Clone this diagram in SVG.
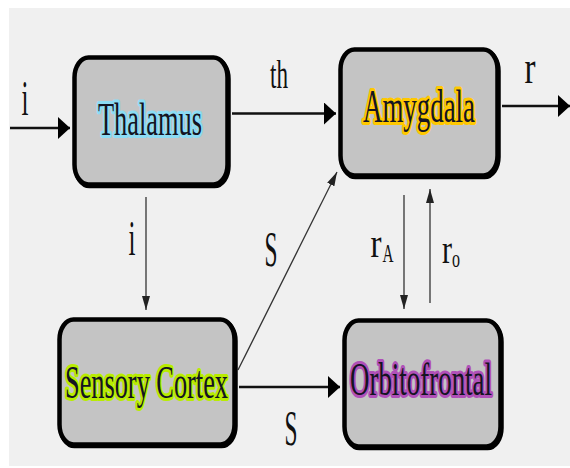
<svg xmlns="http://www.w3.org/2000/svg" width="570" height="468" viewBox="0 0 570 468">
<style>
.box{fill:#c4c4c4;stroke:#000;stroke-width:4.5}
.shadow{fill:#000;stroke:#000;stroke-width:4.5}
.name{font-family:"Liberation Serif","Times New Roman",serif;font-size:46px;fill:#141422;stroke-width:6px;paint-order:stroke;stroke-linejoin:round;text-anchor:middle}
.lbl{font-family:"Liberation Serif","Times New Roman",serif;fill:#111;text-anchor:middle}
.thick{stroke:#111;stroke-width:2.6;fill:none}
.thin{stroke:#333;stroke-width:1.3;fill:none}
</style>
<defs>
<marker id="big" viewBox="0 0 12 22" refX="12" refY="11" markerWidth="12" markerHeight="22" markerUnits="userSpaceOnUse" orient="auto"><path d="M0,0 L12,11 L0,22 Z" fill="#000"/></marker>
<marker id="small" viewBox="0 0 14 8" refX="14" refY="4" markerWidth="14" markerHeight="8" markerUnits="userSpaceOnUse" orient="auto"><path d="M0,0 L14,4 L0,8 Z" fill="#222"/></marker>
</defs>
<rect x="0" y="0" width="570" height="468" fill="#fff"/>
<rect x="9" y="8" width="561" height="458" fill="#f0f0f0"/>

<g id="connectors">
<line class="thick" x1="10" y1="128" x2="70" y2="128" marker-end="url(#big)"/>
<line class="thick" x1="232" y1="113.5" x2="336" y2="113.5" marker-end="url(#big)"/>
<line class="thick" x1="502" y1="106" x2="570" y2="106" marker-end="url(#big)"/>
<line class="thick" x1="239" y1="387" x2="340" y2="387" marker-end="url(#big)"/>
<line class="thin" x1="238" y1="370" x2="337" y2="172" marker-end="url(#small)"/>
<line class="thin" x1="146" y1="197" x2="146" y2="310" marker-end="url(#small)"/>
<line class="thin" x1="404" y1="195" x2="404" y2="309" marker-end="url(#small)"/>
<line class="thin" x1="430" y1="303" x2="430" y2="189" marker-end="url(#small)"/>
<text class="lbl" x="25" y="115" font-size="50" textLength="7" lengthAdjust="spacingAndGlyphs">i</text>
<text class="lbl" x="279" y="88" font-size="40" textLength="18" lengthAdjust="spacingAndGlyphs">th</text>
<text class="lbl" x="530" y="83" font-size="47" textLength="11" lengthAdjust="spacingAndGlyphs">r</text>
<text class="lbl" x="132" y="255" font-size="50" textLength="7" lengthAdjust="spacingAndGlyphs">i</text>
<text class="lbl" x="271" y="266" font-size="50" textLength="13" lengthAdjust="spacingAndGlyphs">S</text>
<text class="lbl" x="291" y="445" font-size="50" textLength="13" lengthAdjust="spacingAndGlyphs">S</text>
<text class="lbl" x="376" y="257" font-size="40" textLength="11" lengthAdjust="spacingAndGlyphs">r</text>
<text class="lbl" x="388" y="262" font-size="26" textLength="11" lengthAdjust="spacingAndGlyphs">A</text>
<text class="lbl" x="447" y="263" font-size="40" textLength="10" lengthAdjust="spacingAndGlyphs">r</text>
<text class="lbl" x="456" y="267" font-size="26" textLength="8" lengthAdjust="spacingAndGlyphs">o</text>
</g>

<g id="thalamus">
<rect class="shadow" x="75.5" y="59" width="153" height="127" rx="14" ry="20"/>
<rect class="box" x="74.5" y="57.5" width="153" height="127" rx="14" ry="20"/>
<text class="name" x="150" y="135" stroke="#8cdcf4" textLength="104" lengthAdjust="spacingAndGlyphs">Thalamus</text>
</g>
<g id="amygdala">
<rect class="shadow" x="341.5" y="51" width="157" height="126" rx="14" ry="20"/>
<rect class="box" x="340.5" y="49.5" width="157" height="126" rx="14" ry="20"/>
<text class="name" x="419" y="122" stroke="#ffc800" textLength="112" lengthAdjust="spacingAndGlyphs">Amygdala</text>
</g>
<g id="sensory-cortex">
<rect class="shadow" x="60.5" y="321" width="175" height="125" rx="14" ry="20"/>
<rect class="box" x="59.5" y="319.5" width="175" height="125" rx="14" ry="20"/>
<text class="name" x="146.5" y="398" stroke="#b8ec00" textLength="163" lengthAdjust="spacingAndGlyphs">Sensory Cortex</text>
</g>
<g id="orbitofrontal">
<rect class="shadow" x="345.5" y="322" width="156" height="126" rx="14" ry="20"/>
<rect class="box" x="344.5" y="320.5" width="156" height="126" rx="14" ry="20"/>
<text class="name" x="421" y="395" stroke="#b050b8" textLength="142" lengthAdjust="spacingAndGlyphs">Orbitofrontal</text>
</g>
</svg>
